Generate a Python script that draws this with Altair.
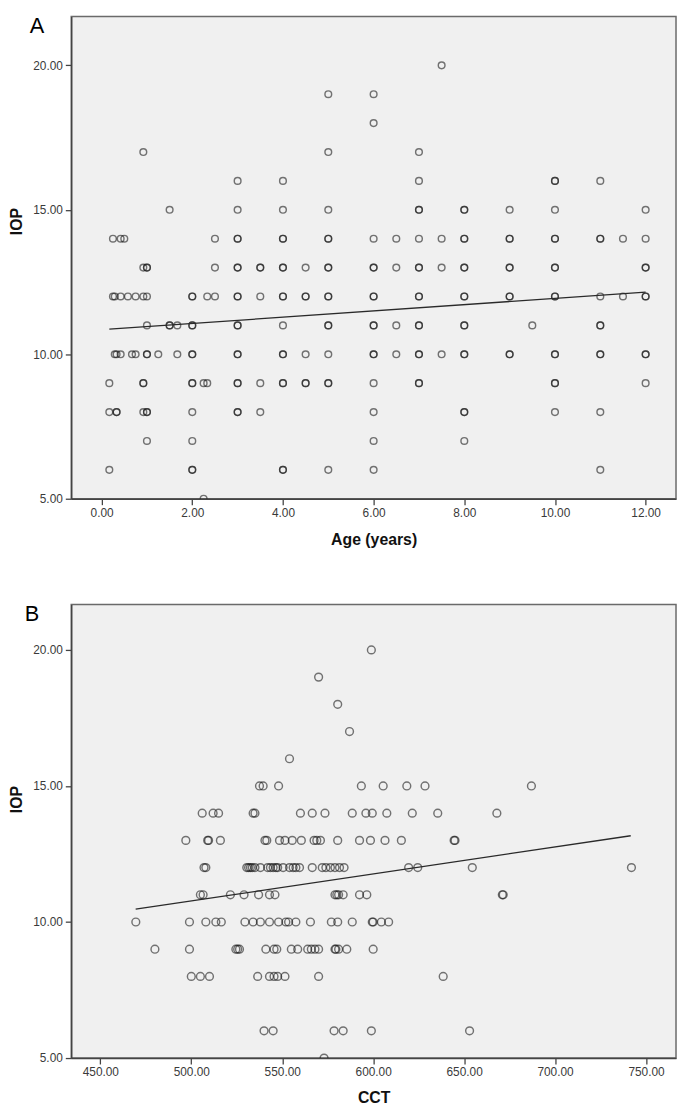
import altair as alt
import pandas as pd

# ---------------- Panel A: IOP vs Age ----------------
a_ages = [0.17, 0.25, 0.29, 0.33, 0.42, 0.5, 0.58, 0.67, 0.75, 0.92, 1.0, 1.25,
          1.5, 1.67, 2.0, 2.25, 2.33, 2.5, 3.0, 3.5, 4.0, 4.5, 5.0, 6.0, 6.5,
          7.0, 7.5, 8.0, 9.0, 9.5, 10.0, 11.0, 11.5, 12.0]
a_iops = [
    [9, 8, 6],
    [14, 12],
    [12, 10],
    [10, 8, 8],
    [14, 12, 10],
    [14],
    [12],
    [10],
    [12, 10],
    [17, 13, 12, 9, 9, 8],
    [13, 13, 12, 11, 10, 10, 8, 8, 7],
    [10],
    [15, 11, 11],
    [11, 10],
    [12, 12, 11, 11, 10, 10, 9, 9, 8, 7, 6, 6],
    [9, 5],
    [12, 9],
    [14, 13, 12],
    [16, 15, 14, 14, 13, 13, 12, 12, 11, 11, 10, 10, 9, 9, 8, 8],
    [13, 13, 12, 9, 8],
    [16, 15, 14, 14, 13, 13, 12, 12, 11, 10, 10, 9, 9, 6, 6],
    [13, 12, 12, 10, 9, 9],
    [19, 17, 15, 14, 14, 13, 13, 12, 12, 11, 11, 10, 9, 9, 6],
    [19, 18, 14, 13, 13, 12, 12, 11, 11, 10, 10, 9, 8, 7, 6],
    [14, 13, 11, 10],
    [17, 16, 15, 15, 14, 13, 13, 12, 12, 11, 11, 10, 10, 9, 9],
    [20, 14, 13, 10],
    [15, 15, 14, 14, 13, 13, 12, 12, 11, 11, 10, 10, 8, 8, 7],
    [15, 14, 14, 13, 13, 12, 12, 10, 10],
    [11],
    [16, 16, 15, 14, 14, 13, 13, 12, 12, 10, 10, 9, 9, 8],
    [16, 14, 14, 12, 11, 11, 10, 10, 8, 6],
    [14, 12],
    [15, 14, 13, 13, 12, 12, 10, 10, 9],
]
fit_a_x = [0.17, 12.0]
fit_a_y = [10.87, 12.15]
a_xticks = [0, 2, 4, 6, 8, 10, 12]

# ---------------- Panel B: IOP vs CCT ----------------
b_levels = [20, 19, 18, 17, 16, 15, 14, 13, 12, 11, 10, 9, 8, 6, 5]
b_ccts = [
    [599],
    [570],
    [580.5],
    [587],
    [554],
    [537.5, 539.5, 548, 593.5, 605.5, 618.5, 628.5, 687],
    [506, 512, 515, 534, 535, 560, 566.5, 573.5, 588.5, 596, 599.5, 607.5,
     621.5, 635.5, 668],
    [497, 509, 509.5, 516, 540.5, 541.5, 548.5, 551.5, 555.5, 560.5, 567.5,
     569, 571, 580.5, 592.5, 598.5, 606.5, 615.5, 644.5, 645],
    [507, 508, 530.5, 531.5, 532.5, 533.5, 535, 538, 542, 543.5, 545, 546.5,
     547.5, 550.5, 554, 556, 557.5, 559.5, 566.5, 572, 574, 576.5, 579, 581.5,
     584, 619.5, 624.5, 654.5, 742],
    [505, 506.5, 521.5, 529, 537, 543, 546, 579, 580, 581, 583.5, 592.5, 596.5,
     671, 671.5],
    [469.5, 499, 508, 513.5, 516.5, 529.5, 534, 538, 543, 548, 552, 553.5,
     557.5, 565.5, 577, 580.5, 588.5, 599.5, 600, 604.5, 608.5],
    [480, 499, 524.5, 525.5, 526.5, 541, 545.5, 547, 555, 558.5, 564, 566, 568,
     570, 579, 579.5, 581, 585.5, 600],
    [500, 505, 510, 536.5, 543, 545.5, 547.5, 551.5, 570, 638.5],
    [540, 545, 578.5, 583.5, 599, 653],
    [573],
]
fit_b_x = [469.4, 741.6]
fit_b_y = [10.47, 13.17]
b_xticks = [450, 500, 550, 600, 650, 700, 750]

y_ticks = [5, 10, 15, 20]

df_a = pd.DataFrame([(x, v) for x, vs in zip(a_ages, a_iops) for v in vs],
                    columns=["x", "y"])
df_b = pd.DataFrame([(c, lvl) for lvl, cs in zip(b_levels, b_ccts) for c in cs],
                    columns=["x", "y"])
fit_a = pd.DataFrame({"x": fit_a_x, "y": fit_a_y})
fit_b = pd.DataFrame({"x": fit_b_x, "y": fit_b_y})

FONT = "Liberation Sans"


def panel(df, fit, xdom, ydom, xticks, xtitle, letter, w, h, psize, letter_dx,
          ytitle_y, xtitle_pad):
    xs = alt.Scale(domain=xdom, nice=False, zero=False)
    ys = alt.Scale(domain=ydom, nice=False, zero=False)
    xa = alt.Axis(values=xticks, format=".2f", title=xtitle, labelFlush=False,
                  titlePadding=xtitle_pad)
    ya = alt.Axis(values=y_ticks, format=".2f", title="IOP", labelFlush=False,
                  titlePadding=8, titleY=ytitle_y)
    pts = alt.Chart(df).mark_point(
        shape="circle", filled=False, size=psize, strokeWidth=1.45,
        color="#161616", opacity=0.58, clip=True
    ).encode(x=alt.X("x:Q", scale=xs, axis=xa), y=alt.Y("y:Q", scale=ys, axis=ya))
    line = alt.Chart(fit).mark_line(color="#2a2a2a", strokeWidth=1.3).encode(
        x=alt.X("x:Q", scale=xs), y=alt.Y("y:Q", scale=ys))
    lab = alt.Chart(pd.DataFrame({"t": [letter]})).mark_text(
        align="left", baseline="top", fontSize=22, font=FONT, color="#000"
    ).encode(x=alt.value(letter_dx), y=alt.value(0), text="t:N")
    return alt.layer(pts, line, lab).properties(width=w, height=h)


chart_a = panel(df_a, fit_a, [-0.67, 12.67], [5, 21.69], a_xticks,
                "Age (years)", "A", 612, 488, 46, -42, 207, 13)
chart_b = panel(df_b, fit_b, [434.0, 766.5], [5, 21.67], b_xticks,
                "CCT", "B", 612, 459, 62, -47, 197, 12)

chart = alt.vconcat(chart_a, chart_b, spacing=107, bounds="flush").properties(
    padding=0
).configure_view(
    fill="#f0f0f0", stroke="#6a6a6a", strokeWidth=1.5
).configure_axis(
    grid=False, domainColor="#444", domainWidth=1.5, tickColor="#444",
    tickSize=6, tickWidth=1.3, labelPadding=3, labelFont=FONT, labelFontSize=12,
    labelColor="#3a3a3a", titleFont=FONT, titleFontSize=16, titleFontWeight="bold",
    titleColor="#111"
)

chart.save("out.html", embed_options={"renderer": "svg", "actions": False})
